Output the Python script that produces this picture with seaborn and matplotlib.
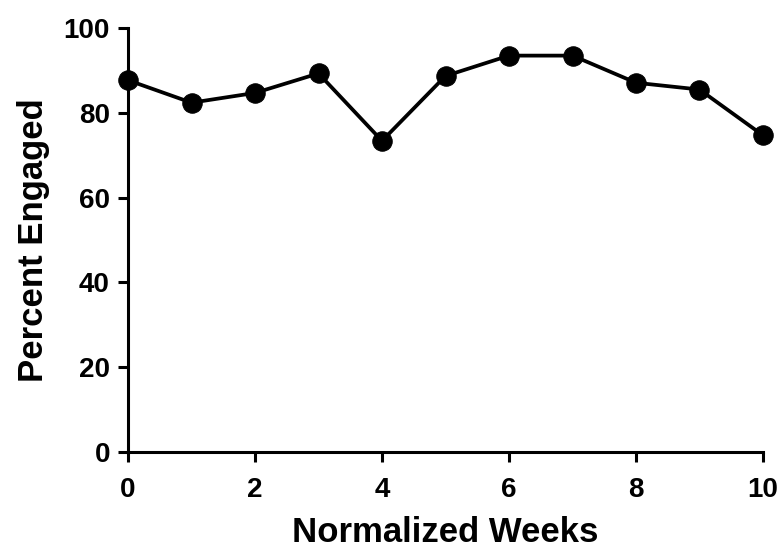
import matplotlib
matplotlib.use("Agg")
import matplotlib.pyplot as plt
import seaborn as sns
import pandas as pd

weeks = [0, 1, 2, 3, 4, 5, 6, 7, 8, 9, 10]
percent_engaged = [87.7, 82.4, 84.7, 89.3, 73.4, 88.7, 93.5, 93.5, 87.1, 85.5, 74.7]
x_ticks = [0, 2, 4, 6, 8, 10]
y_ticks = [0, 20, 40, 60, 80, 100]

sns.set_style("ticks")
plt.rcParams['font.family'] = ['Liberation Sans', 'DejaVu Sans']
plt.rcParams['font.weight'] = 'bold'
plt.rcParams['text.color'] = 'black'
plt.rcParams['axes.labelcolor'] = 'black'
plt.rcParams['xtick.color'] = 'black'
plt.rcParams['ytick.color'] = 'black'

df = pd.DataFrame({"week": weeks, "pct": percent_engaged})

fig = plt.figure(figsize=(7.82, 5.5), dpi=100)
ax = fig.add_axes([0.1637, 0.178, 0.812, 0.771])
sns.lineplot(data=df, x="week", y="pct", ax=ax, color="black", linewidth=2.7,
             marker="o", markersize=14, markeredgecolor="black", clip_on=False)

ax.set_xlim(0, 10)
ax.set_ylim(0, 100)
ax.set_xticks(x_ticks)
ax.set_yticks(y_ticks)
ax.tick_params(axis='both', width=2.2, length=7, labelsize=20, color='black', labelcolor='black')
ax.tick_params(axis='x', pad=11)
ax.tick_params(axis='y', pad=6)
for lab in ax.get_xticklabels() + ax.get_yticklabels():
    lab.set_fontweight('bold')
for s in ['top', 'right']:
    ax.spines[s].set_visible(False)
for s in ['left', 'bottom']:
    ax.spines[s].set_linewidth(2.2)
    ax.spines[s].set_color('black')
ax.set_xlabel("Normalized Weeks", fontsize=25, fontweight='bold', labelpad=9, color='black')
ax.set_ylabel("Percent Engaged", fontsize=25, fontweight='bold', labelpad=10, color='black')

fig.savefig("out.png", dpi=100)
